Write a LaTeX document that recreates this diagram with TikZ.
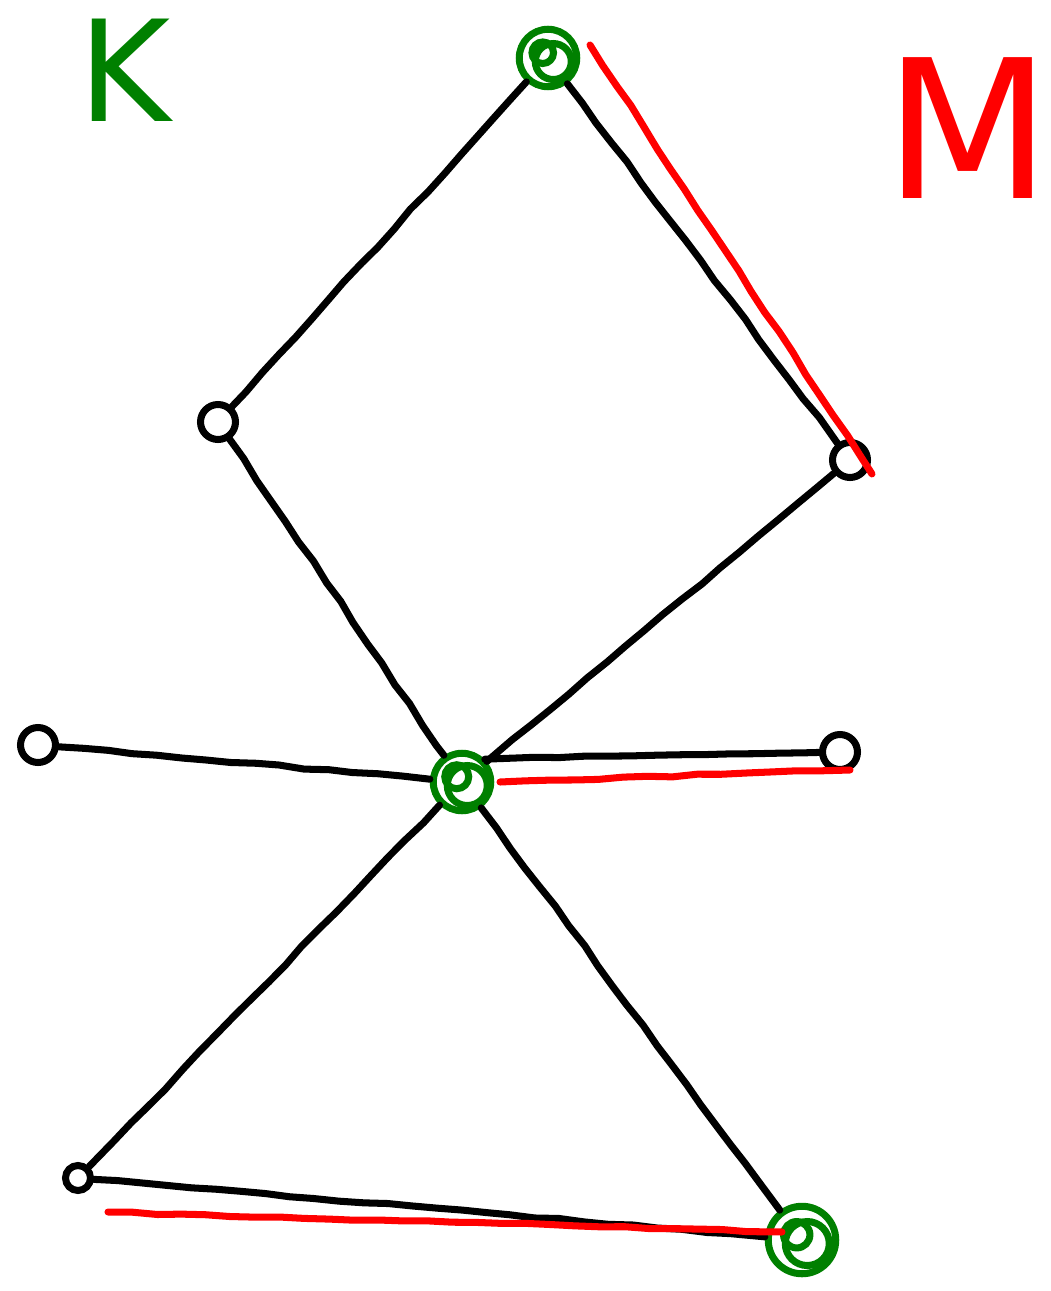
\documentclass[tikz,border=0pt]{standalone}
\usepackage{fontspec}
\setmainfont{DejaVu Sans}
\usetikzlibrary{decorations.pathmorphing}
\definecolor{pgreen}{RGB}{0,128,0}
\definecolor{pred}{RGB}{255,0,0}
\begin{document}
\begin{tikzpicture}[x=0.02cm,y=-0.02cm,
  edge/.style={draw=black,line width=4pt,line cap=round,line join=round,
    decorate,decoration={random steps,segment length=14pt,amplitude=0.6pt}},
  hl/.style={draw=pred,line width=4pt,line cap=round,line join=round,
    decorate,decoration={random steps,segment length=14pt,amplitude=0.6pt}},
  gknot/.style={circle,draw=pgreen,line width=4pt,minimum size=1.15cm,inner sep=0pt},
  bknot/.style={circle,draw=black,line width=4pt,minimum size=0.7cm,inner sep=0pt},
  lbl/.style={inner sep=0pt,font=\fontsize{80}{80}\selectfont}
]
\useasboundingbox (0,0) rectangle (1051,1291);

\node[gknot] (A) at (548,58) {};
\node[bknot] (B) at (218,422) {};
\node[bknot] (C) at (850,460) {};
\node[gknot] (D) at (462,782) {};
\node[bknot] (E) at (38,745) {};
\node[bknot] (F) at (840,752) {};
\node[bknot,minimum size=0.5cm] (G) at (78,1178) {};
\node[gknot,minimum size=1.35cm] (H) at (802,1240) {};

% scribble fill of green nodes
\foreach \n/\r in {A/18,D/20,H/22}{
  \draw[pgreen,line width=4pt] ([xshift=3pt,yshift=-2pt]\n.center) circle[radius=\r*0.02cm];
  \draw[pgreen,line width=4pt] ([xshift=-3pt,yshift=3pt]\n.center) circle[radius=\r*0.012cm];
}

\path[edge] (A) -- (B);
\path[edge] (A) -- (C);
\path[edge] (B) -- (D);
\path[edge] (C) -- (D);
\path[edge] (E) -- (D);
\path[edge] (D.north east) -- (F);
\path[edge] (D) -- (G);
\path[edge] (D) -- (H);
\path[edge] (G) -- (H);

% red highlight strokes
\coordinate (r1a) at (590,45);
\coordinate (r1b) at (872,474);
\coordinate (r2a) at (500,782);
\coordinate (r2b) at (850,770);
\coordinate (r3a) at (108,1212);
\coordinate (r3b) at (782,1232);
\path[hl] (r1a) -- (r1b);
\path[hl] (r2a) -- (r2b);
\path[hl] (r3a) -- (r3b);

\node[lbl,text=pgreen] (K) at (125,70) {K};
\node[lbl,text=pred,font=\fontsize{110}{110}\selectfont] (M) at (968,128) {M};
\end{tikzpicture}
\end{document}
